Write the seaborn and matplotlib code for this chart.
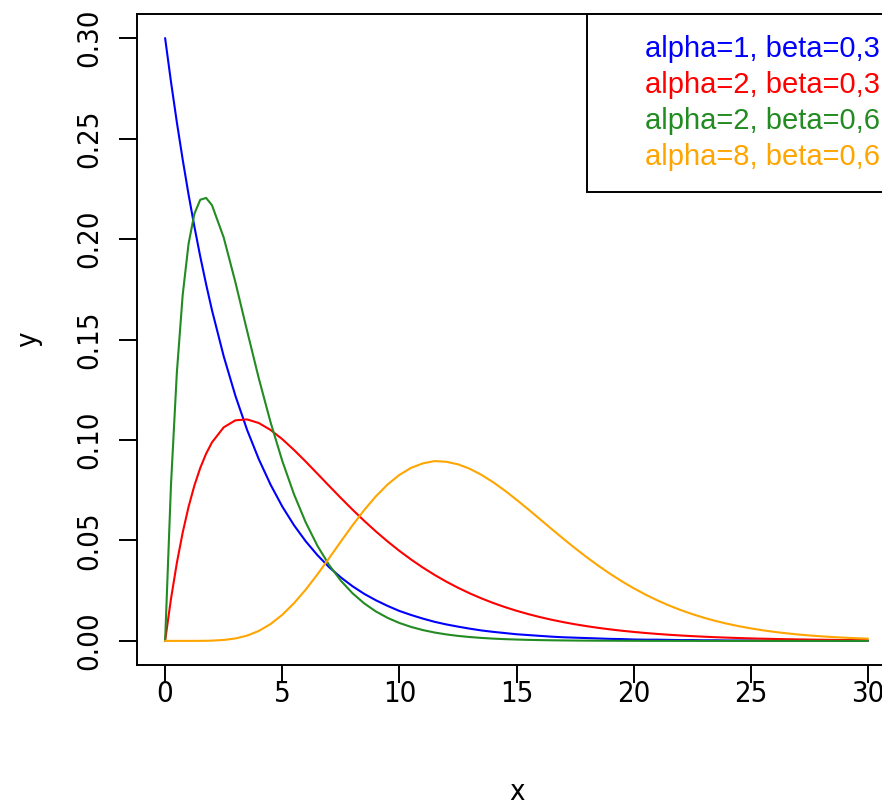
import matplotlib
matplotlib.use("Agg")
import matplotlib.pyplot as plt
from matplotlib.lines import Line2D
import seaborn as sns
import pandas as pd

# ---- data (gamma densities) ----
x = [0, 0.25, 0.5, 0.75, 1, 1.25, 1.5, 1.75, 2, 2.5, 3, 3.5, 4, 4.5, 5, 5.5, 6, 6.5, 7, 7.5,
     8, 8.5, 9, 9.5, 10, 10.5, 11, 11.5, 12, 12.5, 13, 13.5, 14, 14.5, 15, 15.5, 16, 16.5,
     17, 17.5, 18, 18.5, 19, 19.5, 20, 20.5, 21, 21.5, 22, 22.5, 23, 23.5, 24, 24.5, 25,
     25.5, 26, 26.5, 27, 27.5, 28, 28.5, 29, 29.5, 30]

y_a1_b03 = [0.3000, 0.2783, 0.2582, 0.2396, 0.2222, 0.2062, 0.1913, 0.1775, 0.1646, 0.1417,
            0.1220, 0.1050, 0.0904, 0.0778, 0.0669, 0.0576, 0.0496, 0.0427, 0.0367, 0.0316,
            0.0272, 0.0234, 0.0202, 0.0174, 0.0149, 0.0129, 0.0111, 0.0095, 0.0082, 0.0071,
            0.0061, 0.0052, 0.0045, 0.0039, 0.0033, 0.0029, 0.0025, 0.0021, 0.0018, 0.0016,
            0.0014, 0.0012, 0.0010, 0.0009, 0.0007, 0.0006, 0.0006, 0.0005, 0.0004, 0.0004,
            0.0003, 0.0003, 0.0002, 0.0002, 0.0002, 0.0001, 0.0001, 0.0001, 0.0001, 0.0001,
            0.0001, 0.0001, 0.0000, 0.0000, 0.0000]

y_a2_b03 = [0.0, 0.02087, 0.03873, 0.05390, 0.06667, 0.07732, 0.08608, 0.09317, 0.09879, 0.10628,
            0.10977, 0.11023, 0.10843, 0.10499, 0.10041, 0.09506, 0.08926, 0.08323, 0.07715, 0.07115,
            0.06532, 0.05973, 0.05444, 0.04946, 0.04481, 0.04050, 0.03651, 0.03286, 0.02951, 0.02646,
            0.02368, 0.02117, 0.01889, 0.01684, 0.01500, 0.01334, 0.01185, 0.01052, 0.00933, 0.00826,
            0.00732, 0.00647, 0.00572, 0.00505, 0.00446, 0.00394, 0.00347, 0.00306, 0.00269, 0.00237,
            0.00209, 0.00183, 0.00161, 0.00142, 0.00124, 0.00109, 0.00096, 0.00084, 0.00074, 0.00065,
            0.00057, 0.00050, 0.00043, 0.00038, 0.00033]

y_a2_b06 = [0.0, 0.07746, 0.13335, 0.17216, 0.19757, 0.21257, 0.21955, 0.22046, 0.21686, 0.20082,
            0.17852, 0.15430, 0.13063, 0.10887, 0.08962, 0.07303, 0.05902, 0.04737, 0.03779, 0.02999,
            0.02370, 0.01866, 0.01463, 0.01144, 0.00892, 0.00694, 0.00539, 0.00417, 0.00323, 0.00249,
            0.00192, 0.00148, 0.00113, 0.00087, 0.00067, 0.00051, 0.00039, 0.00030, 0.00023, 0.00017,
            0.00013, 0.00010, 0.00008, 0.00006, 0.00004, 0.00003, 0.00002, 0.00002, 0.00001, 0.00001,
            0.0, 0.0, 0.0, 0.0, 0.0, 0.0, 0.0, 0.0, 0.0, 0.0,
            0.0, 0.0, 0.0, 0.0, 0.0]

y_a8_b06 = [0.0, 0.0, 0.0, 0.0, 0.0000018, 0.0000075, 0.000023, 0.000059, 0.000128, 0.000454,
            0.001205, 0.002626, 0.004953, 0.008369, 0.012962, 0.018713, 0.025491, 0.033069, 0.041157, 0.049418,
            0.057517, 0.065134, 0.071993, 0.077869, 0.082608, 0.086110, 0.088348, 0.089481, 0.089153, 0.087890,
            0.085681, 0.082667, 0.078997, 0.074818, 0.070270, 0.065488, 0.060589, 0.055675, 0.050830, 0.046127,
            0.041622, 0.037354, 0.033352, 0.029633, 0.026209, 0.023080, 0.020240, 0.017679, 0.015383, 0.013338,
            0.011524, 0.009924, 0.008520, 0.007292, 0.006222, 0.005295, 0.004494, 0.003804, 0.003212, 0.002706,
            0.002274, 0.001907, 0.001595, 0.001332, 0.001110]

series_labels = ["alpha=1, beta=0,3", "alpha=2, beta=0,3", "alpha=2, beta=0,6", "alpha=8, beta=0,6"]
series_colors = ["#0000FF", "#FF0000", "#228B22", "#FFA500"]

x_ticks = [0, 5, 10, 15, 20, 25, 30]
x_tick_labels = ["0", "5", "10", "15", "20", "25", "30"]
y_ticks = [0.00, 0.05, 0.10, 0.15, 0.20, 0.25, 0.30]
y_tick_labels = ["0.00", "0.05", "0.10", "0.15", "0.20", "0.25", "0.30"]

# ---- build long table ----
frames = []
for lab, ys in zip(series_labels, [y_a1_b03, y_a2_b03, y_a2_b06, y_a8_b06]):
    frames.append(pd.DataFrame({"x": x, "y": ys, "series": lab}))
df = pd.concat(frames, ignore_index=True)

sns.set_theme(style="white")
plt.rcParams["font.family"] = ["Liberation Sans", "DejaVu Sans"]

narrow = ["DejaVu Sans"]
FS = 21

fig = plt.figure(figsize=(8.82, 8.06), dpi=100)
fig.patch.set_facecolor("white")
ax = fig.add_axes([137 / 882, 141 / 806, 759 / 882, 651 / 806])
ax.set_facecolor("white")

sns.lineplot(data=df, x="x", y="y", hue="series", hue_order=series_labels,
             palette=dict(zip(series_labels, series_colors)), sort=False,
             estimator=None, linewidth=1.5, legend=False, ax=ax)

ax.set_xlim(-1.2, 31.2)
ax.set_ylim(-0.012, 0.312)

for s in ax.spines.values():
    s.set_visible(True)
    s.set_color("black")
    s.set_linewidth(1.4)

ax.set_xticks(x_ticks)
ax.set_xticklabels(x_tick_labels, fontsize=FS, family=narrow, fontstretch="condensed")
ax.set_yticks(y_ticks)
ax.set_yticklabels(y_tick_labels, fontsize=FS, family=narrow, fontstretch="condensed",
                   rotation=90, va="center")
ax.tick_params(axis="both", direction="out", length=13, width=1.4, color="black",
               labelcolor="black", bottom=True, left=True)
ax.tick_params(axis="x", pad=-2)
ax.tick_params(axis="y", pad=11)

ax.set_xlabel("x", fontsize=FS, family=narrow, fontstretch="condensed", color="black")
ax.set_ylabel("y", fontsize=FS, family=narrow, fontstretch="condensed", color="black")
ax.xaxis.set_label_coords(0.5, -0.174)
ax.yaxis.set_label_coords(-0.125, 0.5)

handles = [Line2D([], [], color="none") for _ in series_labels]
leg = ax.legend(handles, series_labels, loc="upper right",
                bbox_to_anchor=(1 + 5 / 759, 1), borderaxespad=0,
                fontsize=FS, frameon=True, fancybox=False, framealpha=1,
                edgecolor="black", borderpad=0.72, labelspacing=0.27,
                handlelength=1.0, handletextpad=0.28)
leg.get_frame().set_linewidth(1.4)
for t, c in zip(leg.get_texts(), series_colors):
    t.set_color(c)

fig.savefig("out.png", dpi=100, facecolor="white")
